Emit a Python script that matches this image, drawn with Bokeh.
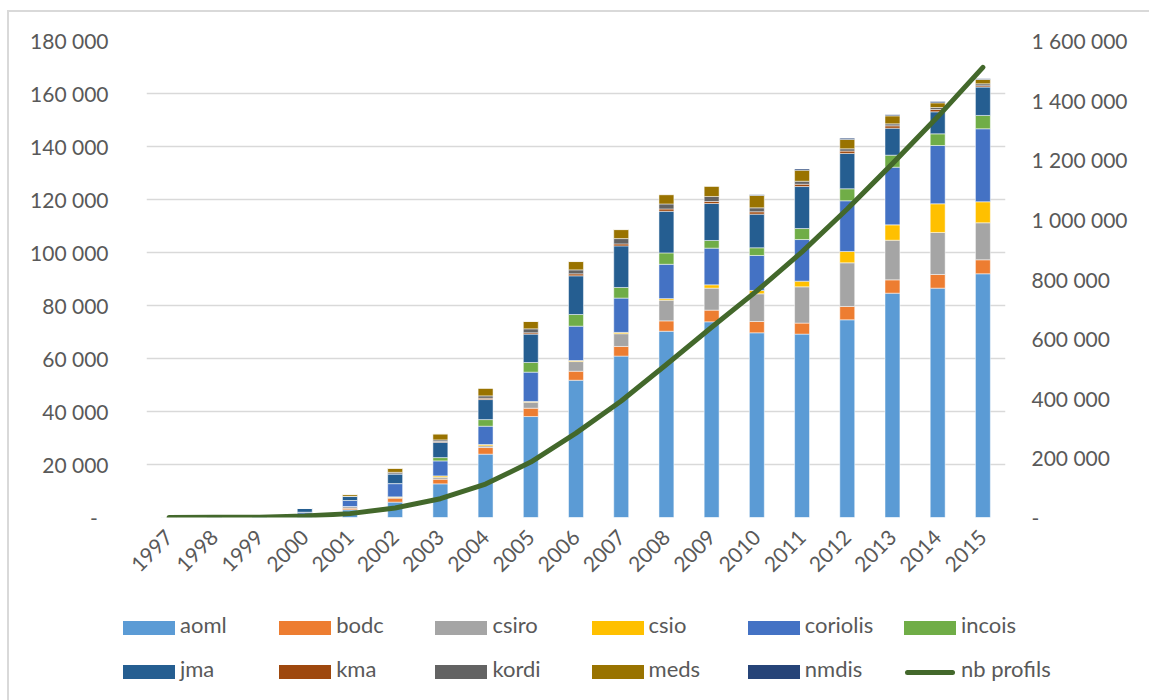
import math
from bokeh.plotting import figure
from bokeh.layouts import column
from bokeh.models import (FactorRange, Range1d, LinearAxis, FixedTicker,
                          CustomJSTickFormatter, Div)
from bokeh.embed import file_html
from bokeh.resources import INLINE

# Profiles per data centre and year, plus the running total of profiles
years = [str(y) for y in range(1997, 2016)]

aoml     = [150, 300, 400, 1000, 2900, 5800, 12700, 23900, 38100, 51800, 60900, 70300, 73850, 69700, 69200, 74600, 84650, 86550, 91970]
bodc     = [0, 0, 0, 100, 600, 1500, 1750, 2500, 3140, 3400, 3650, 3900, 4400, 4270, 4150, 5030, 5030, 5160, 5280]
csiro    = [0, 0, 50, 200, 650, 300, 750, 650, 2260, 3650, 4800, 7800, 8300, 10450, 13700, 16480, 14960, 15850, 13960]
csio     = [0, 0, 0, 0, 0, 200, 500, 500, 300, 400, 500, 600, 1260, 1260, 2140, 4280, 5790, 10820, 7930]
coriolis = [0, 0, 100, 700, 2260, 5000, 5660, 6900, 11050, 12950, 12950, 12950, 13840, 13200, 15700, 19130, 21760, 22000, 27550]
incois   = [0, 0, 0, 0, 0, 0, 1250, 2500, 3650, 4400, 4000, 4300, 2890, 2900, 4150, 4530, 4530, 4400, 5030]
jma      = [0, 0, 150, 1500, 1620, 3650, 5770, 7550, 10700, 14600, 15700, 15700, 13960, 12700, 15850, 13330, 10190, 8300, 10690]
kma      = [0, 0, 0, 0, 0, 0, 300, 500, 500, 750, 750, 880, 750, 880, 880, 880, 880, 880, 500]
kordi    = [0, 0, 0, 0, 0, 600, 600, 900, 1500, 1500, 2000, 1890, 1890, 1500, 1130, 880, 750, 750, 750]
meds     = [0, 0, 0, 0, 640, 1500, 2260, 2890, 2770, 3140, 3400, 3520, 3900, 4650, 4150, 3520, 3020, 1760, 1630]
nmdis    = [0, 0, 0, 0, 0, 0, 0, 0, 0, 0, 0, 0, 0, 300, 500, 500, 400, 500, 250]

nb_profils = [200, 500, 1200, 4700, 13000, 32000, 63000, 112000, 186000, 283000, 391000,
              513000, 638000, 760000, 891000, 1035000, 1187000, 1344000, 1510000]

centres = ["aoml", "bodc", "csiro", "csio", "coriolis", "incois", "jma", "kma", "kordi", "meds", "nmdis"]
series = [aoml, bodc, csiro, csio, coriolis, incois, jma, kma, kordi, meds, nmdis]
colors = ["#5B9BD5", "#ED7D31", "#A5A5A5", "#FFC000", "#4472C4", "#70AD47",
          "#255E91", "#9E480E", "#636363", "#997300", "#264478"]
line_label = "nb profils"
line_color = "#43682B"

left_ticks = list(range(0, 180001, 20000))
right_ticks = list(range(0, 1600001, 200000))

FONT = "Lato"
TEXT = "#595959"
FS = "21px"
LEG_FS = "22px"
W = 1134

data = {"year": years}
for name, vals in zip(centres, series):
    data[name] = vals
data["nb"] = nb_profils

# ---- main chart -------------------------------------------------------
p = figure(x_range=FactorRange(*years, range_padding=0),
           y_range=Range1d(0, 180000),
           width=W, height=578,
           output_backend="svg", toolbar_location=None,
           min_border_left=137, min_border_right=W - 996,
           min_border_top=28, min_border_bottom=73)
p.outline_line_color = None
p.border_fill_color = "white"
p.extra_y_ranges = {"right": Range1d(0, 1600000)}

p.vbar_stack(centres, x="year", width=0.33, source=data, color=colors,
             line_color="white", line_width=0.7, line_alpha=0.7)
p.line(x="year", y="nb", source=data, y_range_name="right",
       line_color=line_color, line_width=5, line_cap="round", line_join="round")

p.xgrid.grid_line_color = None
p.ygrid.grid_line_color = "#d9d9d9"
p.ygrid.grid_line_width = 1.5
p.ygrid.ticker = FixedTicker(ticks=left_ticks)

fmt_left = CustomJSTickFormatter(code="""
    if (tick == 0) { return "-\u00a0\u00a0"; }
    return Math.round(tick).toString().replace(/\\B(?=(\\d{3})+(?!\\d))/g, "\u00a0");
""")
fmt_right = CustomJSTickFormatter(code="""
    if (tick == 0) { return "-"; }
    return Math.round(tick).toString().replace(/\\B(?=(\\d{3})+(?!\\d))/g, "\u00a0");
""")

def style_axis(ax):
    ax.axis_line_color = None
    ax.major_tick_line_color = None
    ax.minor_tick_line_color = None
    ax.major_label_text_font = FONT
    ax.major_label_text_font_size = FS
    ax.major_label_text_color = TEXT

yl = p.yaxis[0]
yl.ticker = FixedTicker(ticks=left_ticks)
yl.formatter = fmt_left
yl.major_label_standoff = 32
style_axis(yl)

yr = LinearAxis(y_range_name="right", ticker=FixedTicker(ticks=right_ticks), formatter=fmt_right)
yr.major_label_standoff = 20
style_axis(yr)
p.add_layout(yr, "right")

xa = p.xaxis[0]
style_axis(xa)
xa.major_label_orientation = math.pi / 4
xa.major_label_standoff = 10

# ---- legend: two rows of six entries ---------------------------------
LH = 104
col_x0, col_dx = 109, 156.2
row_top = [26, 70]
sw_w, sw_h = 52, 14

labels = centres + [line_label]
parts = []
for i, lab in enumerate(labels):
    r, c = divmod(i, 6)
    left = col_x0 + c * col_dx
    top = row_top[r]
    if i < len(centres):
        parts.append(f'<div style="position:absolute;left:{left:.1f}px;top:{top}px;'
                     f'width:{sw_w}px;height:{sw_h}px;background:{colors[i]};"></div>')
    else:
        parts.append(f'<div style="position:absolute;left:{left + 1:.1f}px;top:{top + sw_h / 2 - 2.5:.1f}px;'
                     f'width:{sw_w - 2}px;height:5px;border-radius:2.5px;background:{line_color};"></div>')
    parts.append(f'<span style="position:absolute;left:{left + sw_w + 5:.1f}px;top:{top + sw_h / 2 - 15.5:.1f}px;'
                 f'line-height:24px;white-space:nowrap;">{lab}</span>')

legend_html = (f'<div style="position:relative;width:{W}px;height:{LH}px;'
               f'font-family:{FONT};font-size:{LEG_FS};color:{TEXT};">' + "".join(parts) + '</div>')
legend_div = Div(text=legend_html, width=W, height=LH)

layout = column(p, legend_div, spacing=0)
layout.styles = {"margin-left": "7px", "margin-top": "10px",
                 "border-left": "2px solid #d9d9d9", "border-top": "2px solid #d9d9d9"}

open("out.html", "w").write(file_html(layout, INLINE))
